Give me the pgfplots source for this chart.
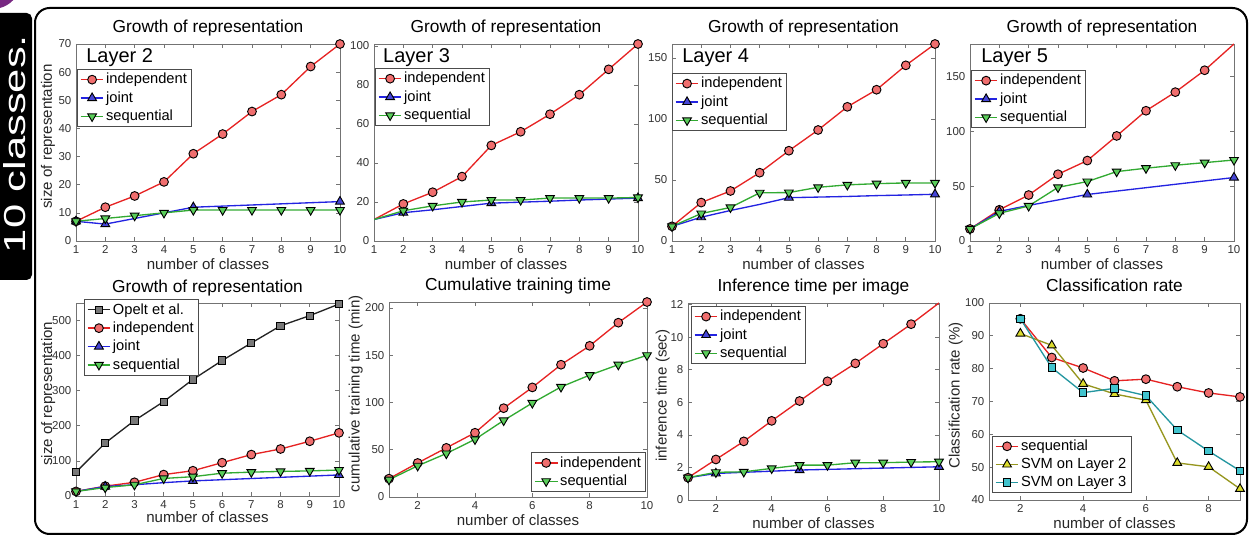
\documentclass[border=0pt]{standalone}
\usepackage{fontspec}
\setmainfont{Liberation Sans}
\setsansfont{Liberation Sans}
\usepackage{pgfplots}
\pgfplotsset{compat=1.18}
\usepackage{graphicx}

\definecolor{indL}{RGB}{230,35,35}
\definecolor{indF}{RGB}{240,110,110}
\definecolor{joiL}{RGB}{35,35,225}
\definecolor{joiF}{RGB}{70,70,215}
\definecolor{seqL}{RGB}{50,170,50}
\definecolor{seqF}{RGB}{90,205,90}
\definecolor{opL}{RGB}{35,35,35}
\definecolor{opF}{RGB}{120,120,120}
\definecolor{s2L}{RGB}{150,150,30}
\definecolor{s2F}{RGB}{220,220,45}
\definecolor{s3L}{RGB}{35,150,160}
\definecolor{s3F}{RGB}{65,195,205}
\definecolor{purp}{RGB}{120,40,130}

\tikzset{layertxt/.style={font=\fontsize{15}{16}\selectfont, anchor=base west, inner sep=0pt}}

\pgfplotsset{
  base/.style={
    scale only axis,
    axis line style={draw=black!55, line width=0.6pt},
    tick style={black!55, line width=0.5pt},
    major tick length=3pt,
    tick label style={font=\fontsize{8.6}{10}\selectfont, text=black!80},
    /pgf/number format/assume math mode=true,
    title style={font=\fontsize{13}{14}\selectfont, at={(axis description cs:0.5,1)}, anchor=base, yshift=2.25pt},
    label style={font=\fontsize{11.3}{12}\selectfont, text=black!85},
    xlabel style={at={(axis description cs:0.5,0)}, anchor=base, yshift=-21.75pt},
    legend style={draw=black!70, line width=0.5pt, fill=white,
      font=\fontsize{11}{12}\selectfont, inner xsep=2pt, inner ysep=1.5pt,
      row sep=1.3pt, nodes={inner sep=1.5pt}},
    legend cell align=left,
    legend image post style={mark indices={2}},
  },
  ylab/.style={ylabel style={at={(axis description cs:#1,0.53)}, anchor=base}},
  ind/.style={color=indL, line width=1pt, mark=*, mark size=3.3pt,
    mark options={fill=indF, draw=black, line width=0.7pt}},
  joi/.style={color=joiL, line width=1pt, mark=triangle*, mark size=3.8pt,
    mark options={fill=joiF, draw=black, line width=0.7pt}},
  seq/.style={color=seqL, line width=1pt, mark=triangle*, mark size=3.8pt,
    mark options={fill=seqF, draw=black, line width=0.7pt, rotate=180}},
  opl/.style={color=opL, line width=1pt, mark=square*, mark size=2.7pt,
    mark options={fill=opF, draw=black, line width=0.7pt}},
  svmtwo/.style={color=s2L, line width=1pt, mark=triangle*, mark size=3.8pt,
    mark options={fill=s2F, draw=black, line width=0.7pt}},
  svmthree/.style={color=s3L, line width=1pt, mark=square*, mark size=2.8pt,
    mark options={fill=s3F, draw=black, line width=0.7pt}},
}

\begin{document}
\begin{tikzpicture}
\useasboundingbox (0,0) rectangle (937.5pt,405.75pt);
% purple corner
\fill[purp] (0,405.75pt) -- (10pt,405.75pt) .. controls (7pt,402.5pt) and (3pt,400.5pt) .. (0,399.75pt) -- cycle;
% black tab
\fill[black, rounded corners=4pt] (-6pt,195.75pt) rectangle (24pt,396pt);
\node[rotate=90, text=white, inner sep=0pt] at (11.25pt,297.75pt) {\resizebox{163.5pt}{16.5pt}{10 classes.}};
% frame
\draw[line width=1.5pt, rounded corners=11pt] (26.25pt,5.25pt) rectangle (935.25pt,399.75pt);

% ---------- Plot 1: Layer 2
\begin{axis}[base, at={(57pt,225pt)}, anchor=south west, width=198pt, height=147.75pt,
  xmin=1, xmax=10, ymin=0, ymax=70, xtick={1,...,10}, ytick={0,10,...,70},
  title={Growth of representation}, xlabel={number of classes}, ylabel={size of representation},
  ylab=-0.091,
  legend style={at={(0.004,0.873)}, anchor=north west}]
\addplot[ind] coordinates {(1,7)(2,12)(3,16)(4,21)(5,31)(6,38)(7,46)(8,52)(9,62)(10,70)};
\addplot[joi, mark indices={1,2,5,10}] coordinates {(1,7)(2,6)(3,8)(4,10)(5,12)(6,12.4)(7,12.8)(8,13.2)(9,13.6)(10,14)};
\addplot[seq] coordinates {(1,7)(2,8)(3,9)(4,10)(5,11)(6,11)(7,11)(8,11)(9,11)(10,11)};
\legend{independent, joint, sequential}
\node[layertxt] at (rel axis cs:0.038,0.904) {Layer 2};
\end{axis}

% ---------- Plot 2: Layer 3
\begin{axis}[base, at={(280.5pt,225pt)}, anchor=south west, width=198pt, height=147.75pt,
  xmin=1, xmax=10, ymin=0, ymax=101, xtick={1,...,10}, ytick={0,20,...,100},
  title={Growth of representation}, xlabel={number of classes},
  legend style={at={(0.004,0.878)}, anchor=north west}]
\addplot[ind, mark indices={2,3,4,5,6,7,8,9,10}] coordinates {(1,11)(2,19)(3,25)(4,33)(5,49)(6,56)(7,65)(8,75)(9,88)(10,101)};
\addplot[joi, mark indices={2,5,10}] coordinates {(1,11)(2,14.5)(3,16)(4,17.7)(5,19.4)(6,19.9)(7,20.4)(8,21)(9,21.5)(10,22)};
\addplot[seq, mark indices={2,3,4,5,6,7,8,9,10}] coordinates {(1,11)(2,15.5)(3,18)(4,20)(5,21)(6,21)(7,22)(8,22)(9,22)(10,22.3)};
\legend{independent, joint, sequential}
\node[layertxt] at (rel axis cs:0.034,0.904) {Layer 3};
\end{axis}

% ---------- Plot 3: Layer 4
\begin{axis}[base, at={(504pt,225pt)}, anchor=south west, width=197.25pt, height=147.75pt,
  xmin=1, xmax=10, ymin=0, ymax=161.5, xtick={1,...,10}, ytick={0,50,100,150},
  title={Growth of representation}, xlabel={number of classes},
  legend style={at={(0.0,0.853)}, anchor=north west}]
\addplot[ind] coordinates {(1,12)(2,31.5)(3,41)(4,56)(5,74)(6,91)(7,110)(8,124)(9,144)(10,161.5)};
\addplot[joi, mark indices={2,5,10}] coordinates {(1,12)(2,19.5)(3,25)(4,30)(5,35.5)(6,36)(7,36.5)(8,37.2)(9,37.7)(10,38.3)};
\addplot[seq] coordinates {(1,12)(2,22.5)(3,27.5)(4,39.5)(5,39.7)(6,44)(7,46)(8,47)(9,47.6)(10,47.6)};
\legend{independent, joint, sequential}
\node[layertxt] at (rel axis cs:0.038,0.904) {Layer 4};
\end{axis}

% ---------- Plot 4: Layer 5
\begin{axis}[base, at={(727.5pt,225pt)}, anchor=south west, width=198pt, height=147.75pt,
  xmin=1, xmax=10, ymin=0, ymax=180, xtick={1,...,10}, ytick={0,50,100,150},
  title={Growth of representation}, xlabel={number of classes},
  legend style={at={(0.004,0.868)}, anchor=north west}]
\addplot[ind, mark indices={1,2,3,4,5,6,7,8,9}] coordinates {(1,11)(2,28.5)(3,42)(4,61)(5,73.5)(6,96)(7,119)(8,136)(9,156)(10,180)};
\addplot[joi, mark indices={2,5,10}] coordinates {(1,11)(2,27)(3,32.5)(4,37.5)(5,42.5)(6,45.6)(7,48.7)(8,51.8)(9,54.9)(10,58)};
\addplot[seq] coordinates {(1,11)(2,25.3)(3,32)(4,49)(5,54.3)(6,63.4)(7,66.5)(8,69.2)(9,71.6)(10,74)};
\legend{independent, joint, sequential}
\node[layertxt] at (rel axis cs:0.042,0.904) {Layer 5};
\end{axis}

% ---------- Plot 5: Growth with Opelt
\begin{axis}[base, at={(57pt,33.75pt)}, anchor=south west, width=197.25pt, height=144.75pt,
  xmin=1, xmax=10, ymin=0, ymax=550, xtick={1,...,10}, ytick={0,100,...,500},
  title={Growth of representation}, xlabel={number of classes}, ylabel={size of representation},
  ylab=-0.091, xlabel style={yshift=1.5pt},
  legend style={at={(0.03,1.02)}, anchor=north west}]
\addplot[opl] coordinates {(1,68)(2,151)(3,215)(4,269)(5,332)(6,386)(7,436)(8,485)(9,514)(10,547)};
\addplot[ind] coordinates {(1,13)(2,28)(3,39)(4,61)(5,72)(6,95)(7,118)(8,134)(9,156)(10,180)};
\addplot[joi, mark indices={2,5,10}] coordinates {(1,13)(2,27)(3,32)(4,38)(5,43)(6,46.4)(7,49.8)(8,53.2)(9,56.6)(10,60)};
\addplot[seq] coordinates {(1,13)(2,24)(3,32)(4,50)(5,55)(6,65)(7,68)(8,70)(9,71.5)(10,74)};
\legend{Opelt et al., independent, joint, sequential}
\end{axis}

% ---------- Plot 6: Cumulative training time
\begin{axis}[base, at={(291.75pt,33pt)}, anchor=south west, width=193.5pt, height=146.25pt,
  xmin=1, xmax=10, ymin=0, ymax=206.4, xtick={2,4,...,10}, ytick={0,50,...,200},
  title={Cumulative training time}, xlabel={number of classes}, ylabel={cumulative training time (min)},
  ylab=-0.114,
  legend style={at={(0.996,0.026)}, anchor=south east}]
\addplot[ind] coordinates {(1,19.4)(2,36)(3,52)(4,68)(5,94)(6,116)(7,140)(8,160)(9,184.5)(10,206.4)};
\addplot[seq] coordinates {(1,18.3)(2,33)(3,46)(4,61)(5,81)(6,99.5)(7,116.5)(8,129)(9,140)(10,150)};
\legend{independent, sequential}
\end{axis}

% ---------- Plot 7: Inference time
\begin{axis}[base, at={(516pt,30.75pt)}, anchor=south west, width=188.25pt, height=147.75pt,
  xmin=1, xmax=10, ymin=0, ymax=12.1, xtick={2,4,...,10}, ytick={0,2,...,12},
  title={Inference time per image}, xlabel={number of classes}, ylabel={inference time (sec)},
  ylab=-0.085,
  legend style={at={(0.012,0.985)}, anchor=north west}]
\addplot[ind, mark indices={1,2,3,4,5,6,7,8,9}] coordinates {(1,1.37)(2,2.49)(3,3.6)(4,4.86)(5,6.08)(6,7.29)(7,8.39)(8,9.6)(9,10.8)(10,12.1)};
\addplot[joi, mark indices={2,5,10}] coordinates {(1,1.37)(2,1.63)(3,1.7)(4,1.77)(5,1.84)(6,1.88)(7,1.92)(8,1.96)(9,2.0)(10,2.04)};
\addplot[seq] coordinates {(1,1.37)(2,1.7)(3,1.73)(4,1.94)(5,2.14)(6,2.14)(7,2.29)(8,2.29)(9,2.33)(10,2.35)};
\legend{independent, joint, sequential}
\end{axis}

% ---------- Plot 8: Classification rate
\begin{axis}[base, at={(741.75pt,30.75pt)}, anchor=south west, width=188.25pt, height=147.75pt,
  xmin=1, xmax=9, ymin=40, ymax=100, xtick={2,4,6,8}, ytick={40,50,...,100},
  title={Classification rate}, xlabel={number of classes}, ylabel={Classification rate (\%)},
  ylab=-0.117,
  legend style={at={(0.012,0.036)}, anchor=south west}]
\addplot[ind] coordinates {(2,95.2)(3,83.4)(4,80.2)(5,76.3)(6,76.8)(7,74.5)(8,72.6)(9,71.4)};
\addplot[svmtwo] coordinates {(2,90.7)(3,87.1)(4,75.4)(5,72.3)(6,70.4)(7,51.3)(8,50.1)(9,43.4)};
\addplot[svmthree] coordinates {(2,95.2)(3,80.3)(4,72.7)(5,74)(6,71.8)(7,61.3)(8,54.9)(9,48.9)};
\legend{sequential, SVM on Layer 2, SVM on Layer 3}
\end{axis}
\end{tikzpicture}
\end{document}
